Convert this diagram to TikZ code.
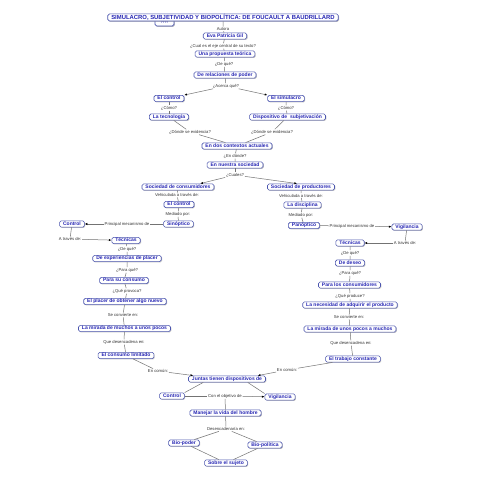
\documentclass[tikz,border=0pt]{standalone}
\usepackage{fontspec}
\setmainfont{Liberation Sans}
\usetikzlibrary{arrows.meta,shadows}
\definecolor{conceptblue}{RGB}{38,38,180}
\definecolor{conceptedge}{RGB}{75,85,175}

\begin{document}
\begin{tikzpicture}[x=1pt,y=-1pt]

    % let's define some key values
    \def\xmid{225}
    \def\xleft{126}
    \def\xright{350}

    % Styles
    \tikzstyle{concept}=[draw=conceptedge, line width=0.6pt, fill=white, rounded corners=1.6pt, inner xsep=3.5pt, inner ysep=0.8pt, text height=3.7pt, text depth=1pt, text=conceptblue, font=\fontsize{5}{6}\selectfont\bfseries, drop shadow={shadow xshift=0.8pt, shadow yshift=-0.8pt, fill=black!45}]
    \tikzstyle{phrase}=[inner sep=0.6pt, text=black!80, font=\fontsize{4.2}{5}\selectfont]
    \tikzstyle{link}=[draw=black!55, line width=0.5pt]
    \tikzstyle{arrow}=[link, -{Latex[length=2.6pt,width=2.2pt,color=black]}]

    \useasboundingbox[fill=white] (0,0) rectangle (481,481);

    % title
    \node[concept, minimum width=19pt, minimum height=7pt, text height=2pt, text depth=0pt, font=\fontsize{3}{3}\selectfont\bfseries] (hidden) at (164.5,22.5) {????};
    \node[concept, font=\fontsize{5.9}{7}\selectfont\bfseries, text height=4.3pt, text depth=1.2pt] (title) at (223,17.5) {SIMULACRO, SUBJETIVIDAD Y BIOPOLÍTICA: DE FOUCAULT A BAUDRILLARD};

    % central column
    \node[concept] (author) at (\xmid,36) {Eva Patricia Gil};
    \node[concept] (propuesta) at (\xmid,54) {Una propuesta teórica};
    \node[concept] (relaciones) at (\xmid,75) {De relaciones de poder};
    \node[concept] (control1) at (169,98.5) {El control};
    \node[concept] (simulacro) at (286,98.5) {El simulacro};
    \node[concept] (tecnologia) at (169,117) {La tecnología};
    \node[concept] (dispositivo) at (287.5,117) {Dispositivo de~ subjetivación};
    \node[concept] (contextos) at (237,146) {En dos contextos actuales};
    \node[concept] (sociedad) at (235,165) {En nuestra sociedad};

    \node[phrase] (lautora) at (223,29) {Autora};
    \node[phrase] (leje) at (223,46) {¿Cual es el eje central de su texto?};
    \node[phrase] (ldeque) at (224,64) {¿De qué?};
    \node[phrase] (lacerca) at (226,86) {¿Acerca qué?};
    \node[phrase] (lcomol) at (169,108) {¿Cómo?};
    \node[phrase] (lcomor) at (286,108) {¿Cómo?};
    \node[phrase] (ldondel) at (190,132) {¿Dónde se evidencia?};
    \node[phrase] (ldonder) at (272,132) {¿Dónde se evidencia?};
    \node[phrase] (lendonde) at (235,156) {¿En dónde?};
    \node[phrase] (lcuales) at (235,175) {¿Cuales?};

    % left branch
    \node[concept] (consumidores) at (178,187) {Sociedad de consumidores};
    \node[concept] (control2) at (179,204.5) {El control};
    \node[concept] (sinoptico) at (178.5,224) {Sinóptico};
    \node[concept] (controll) at (72,224) {Control};
    \node[concept] (tecnicasl) at (\xleft,240.5) {Técnicas};
    \node[concept] (placer) at (127,258.5) {De experiencias de placer};
    \node[concept] (consumo) at (124,280.5) {Para su consumo};
    \node[concept] (nuevo) at (125,301.5) {El placer de obtener algo nuevo};
    \node[concept] (miradal) at (124.5,328.5) {La mirada de muchos a unos pocos};
    \node[concept] (limitado) at (\xleft,355.5) {El consumo limitado};

    \node[phrase] (lvehl) at (177,195) {Vehiculada a través de:};
    \node[phrase] (lmedl) at (178,214) {Mediado por:};
    \node[phrase] (lprincl) at (127,224) {Principal mecanismo de};
    \node[phrase] (ltravesl) at (70,239) {A través de:};
    \node[phrase] (ldequel) at (127,249) {¿De qué?};
    \node[phrase] (lparal) at (127,270) {¿Para qué?};
    \node[phrase] (lprovoca) at (127,291) {¿Qué provoca?};
    \node[phrase] (lconvl) at (123,315) {Se convierte en:};
    \node[phrase] (ldesl) at (124,342) {Que desencadena en:};
    \node[phrase] (lcomunl) at (158,371) {En común:};

    % right branch
    \node[concept] (productores) at (301,187) {Sociedad de productores};
    \node[concept] (disciplina) at (302.5,205) {La disciplina};
    \node[concept] (panoptico) at (304,225.5) {Panóptico};
    \node[concept] (vigilanciar) at (407,227) {Vigilancia};
    \node[concept] (tecnicasr) at (\xright,243) {Técnicas};
    \node[concept] (deseo) at (\xright,263) {De deseo};
    \node[concept] (paraconsumidores) at (349.5,285) {Para los consumidores};
    \node[concept] (necesidad) at (\xright,305) {La necesidad de adquirir el producto};
    \node[concept] (miradar) at (\xright,329) {La mirada de unos pocos a muchos};
    \node[concept] (trabajo) at (353,359) {El trabajo constante};

    \node[phrase] (lvehr) at (301,195.5) {Vehiculada a través de:};
    \node[phrase] (lmedr) at (301,215) {Mediado por:};
    \node[phrase] (lprincr) at (352,226) {Principal mecanismo de};
    \node[phrase] (ltravesr) at (405,243) {A través de:};
    \node[phrase] (ldequer) at (\xright,253) {¿De qué?};
    \node[phrase] (lparar) at (\xright,273) {¿Para qué?};
    \node[phrase] (lproduce) at (\xright,296) {¿Qué produce?};
    \node[phrase] (lconvr) at (349,317) {Se convierte en:};
    \node[phrase] (ldesr) at (351,343) {Que desencadena en:};
    \node[phrase] (lcomunr) at (287,370) {En común:};

    % bottom
    \node[concept] (juntas) at (227,379) {Juntas tienen dispositivos de};
    \node[concept] (controlb) at (172,396) {Control};
    \node[concept] (vigilanciab) at (280,397) {Vigilancia};
    \node[concept] (manejar) at (225.5,413) {Manejar la vida del hombre};
    \node[concept] (biopoder) at (184,443) {Bio-poder};
    \node[concept] (biopolitica) at (265,445) {Bio-política};
    \node[concept] (sujeto) at (226,463) {Sobre el sujeto};

    \node[phrase] (lobjetivo) at (225,396) {Con el objetivo de};
    \node[phrase] (ldesencadenaria) at (226,429) {Desencadenaría en:};

    % connectors, top
    \draw[link] (title) -- (lautora) -- (author);
    \draw[link] (author) -- (leje) -- (propuesta);
    \draw[link] (propuesta) -- (ldeque) -- (relaciones);
    \draw[link] (relaciones) -- (lacerca);
    \draw[arrow] (lacerca) -- (control1.north east);
    \draw[arrow] (lacerca) -- (simulacro.north west);
    \draw[link] (control1) -- (lcomol) -- (tecnologia);
    \draw[link] (simulacro) -- (lcomor) -- (dispositivo);
    \draw[link] (tecnologia) -- (ldondel) -- (contextos);
    \draw[link] (dispositivo) -- (ldonder) -- (contextos);
    \draw[link] (contextos) -- (lendonde) -- (sociedad);
    \draw[link] (sociedad) -- (lcuales);
    \draw[arrow] (lcuales) -- ([xshift=-14pt]consumidores.north east);
    \draw[arrow] (lcuales) -- ([xshift=-4pt]productores.north);

    % connectors, left
    \draw[link] (consumidores) -- (lvehl) -- (control2);
    \draw[link] (control2) -- (lmedl) -- (sinoptico);
    \draw[link] (sinoptico) -- (lprincl);
    \draw[arrow] (lprincl) -- (controll);
    \draw[link] (controll) -- (ltravesl);
    \draw[arrow] (ltravesl) -- (tecnicasl);
    \draw[link] (tecnicasl) -- (ldequel) -- (placer) -- (lparal) -- (consumo) -- (lprovoca) -- (nuevo) -- (lconvl) -- (miradal) -- (ldesl) -- (limitado) -- (lcomunl);
    \draw[arrow] (lcomunl) -- ([xshift=5pt]juntas.north west);

    % connectors, right
    \draw[link] (productores) -- (lvehr) -- (disciplina);
    \draw[link] (disciplina) -- (lmedr) -- (panoptico);
    \draw[link] (panoptico) -- (lprincr);
    \draw[arrow] (lprincr) -- (vigilanciar);
    \draw[link] (vigilanciar) -- (ltravesr);
    \draw[arrow] (ltravesr) -- (tecnicasr);
    \draw[link] (tecnicasr) -- (ldequer) -- (deseo) -- (lparar) -- (paraconsumidores) -- (lproduce) -- (necesidad) -- (lconvr) -- (miradar) -- (ldesr) -- (trabajo) -- (lcomunr);
    \draw[arrow] (lcomunr) -- ([xshift=-8pt]juntas.north east);

    % connectors, bottom
    \draw[link] ([xshift=15pt]juntas.south west) -- (controlb.north east);
    \draw[link] ([xshift=-18pt]juntas.south east) -- (vigilanciab.north west);
    \draw[link] (controlb) -- (lobjetivo);
    \draw[arrow] (lobjetivo) -- (vigilanciab);
    \draw[link] (lobjetivo) -- (manejar);
    \draw[link] (manejar) -- (ldesencadenaria);
    \draw[link] (ldesencadenaria) -- (biopoder);
    \draw[link] (ldesencadenaria) -- (biopolitica);
    \draw[link] (biopoder) -- (sujeto);
    \draw[link] (biopolitica) -- (sujeto);

\end{tikzpicture}
\end{document}
